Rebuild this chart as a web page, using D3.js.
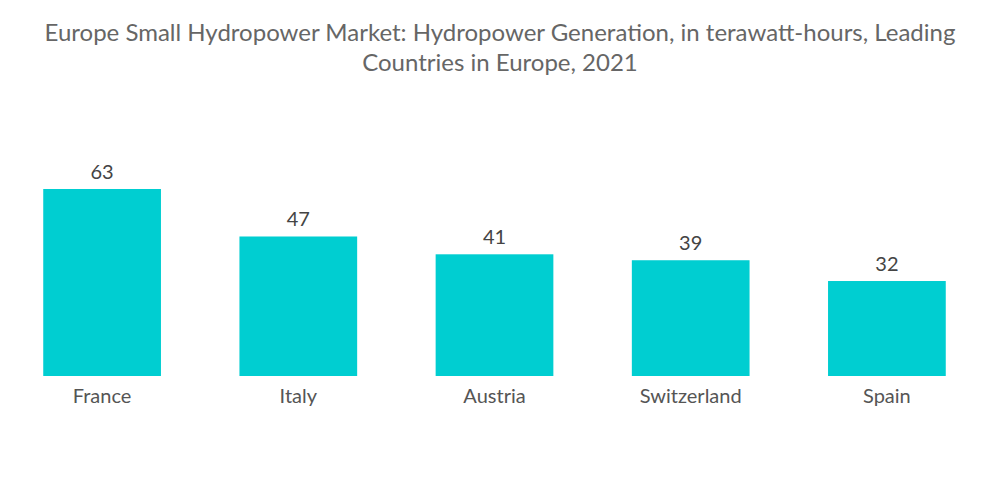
<!DOCTYPE html>
<html>
<head>
<meta charset="utf-8">
<script src="https://cdn.jsdelivr.net/npm/d3@7"></script>
<style>
  body { margin: 0; background: #fff; }
  text { font-family: Lato, "Open Sans", sans-serif; }
</style>
</head>
<body>
<div id="chart"></div>
<script>
//Data
var countries = ["France", "Italy", "Austria", "Switzerland", "Spain"];
var generation = [63, 47, 41, 39, 32];

var titleLines = [
  "Europe Small Hydropower Market: Hydropower Generation, in terawatt-hours, Leading",
  "Countries in Europe, 2021"
];

//Width and height
var w = 1000;
var h = 504;
var baseY = 376;

var svg = d3.select("#chart")
  .append("svg")
  .attr("width", w)
  .attr("height", h);

//Title
svg.selectAll("text.title")
  .data(titleLines)
  .enter()
  .append("text")
  .attr("class", "title")
  .attr("x", w / 2)
  .attr("y", function(d, i) { return 41 + i * 30; })
  .attr("text-anchor", "middle")
  .attr("fill", "#666")
  .style("font-size", "24px")
  .text(function(d) { return d; });

//Scales
var xScale = d3.scaleBand()
  .domain(countries)
  .range([4, 985])
  .paddingInner(0.4)
  .paddingOuter(0.2);

var yScale = d3.scaleLinear()
  .domain([0, 63])
  .range([baseY, 189]);

var data = countries.map(function(c, i) {
  return { country: c, value: generation[i] };
});

//Bars
svg.selectAll("rect")
  .data(data)
  .enter()
  .append("rect")
  .attr("x", function(d) { return xScale(d.country); })
  .attr("y", function(d) { return yScale(d.value); })
  .attr("width", xScale.bandwidth())
  .attr("height", function(d) { return yScale(0) - yScale(d.value); })
  .attr("fill", "#00CED1");

//Value labels
svg.selectAll("text.value")
  .data(data)
  .enter()
  .append("text")
  .attr("class", "value")
  .attr("x", function(d) { return xScale(d.country) + xScale.bandwidth() / 2; })
  .attr("y", function(d) { return yScale(d.value) - 10; })
  .attr("text-anchor", "middle")
  .attr("fill", "#444")
  .style("font-size", "20px")
  .text(function(d) { return d.value; });

//X axis
var xAxis = d3.axisBottom(xScale).tickSize(0).tickPadding(13);
var gx = svg.append("g")
  .attr("class", "axis x")
  .attr("transform", "translate(0," + baseY + ")")
  .call(xAxis);
gx.select(".domain").remove();
gx.selectAll("text")
  .attr("fill", "#555")
  .style("font-size", "20px")
  .style("font-family", "Lato, 'Open Sans', sans-serif");
</script>
</body>
</html>
